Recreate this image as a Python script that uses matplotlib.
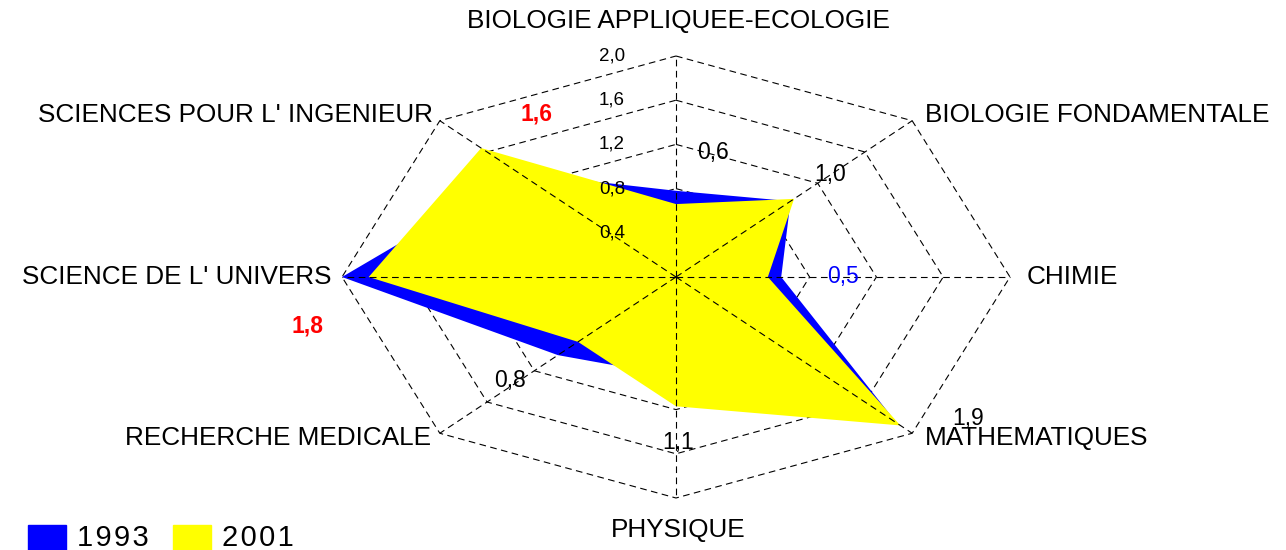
import numpy as np
import matplotlib
matplotlib.use('Agg')
import matplotlib.pyplot as plt
from matplotlib.patches import Rectangle

# axes, clockwise from the top
categories = ['BIOLOGIE APPLIQUEE-ECOLOGIE', 'BIOLOGIE FONDAMENTALE', 'CHIMIE',
              'MATHEMATIQUES', 'PHYSIQUE', 'RECHERCHE MEDICALE',
              "SCIENCE DE L' UNIVERS", "SCIENCES POUR L' INGENIEUR"]
v1993 = [0.78, 0.97, 0.63, 1.87, 0.90, 1.00, 2.00, 1.33]
v2001 = [0.66, 1.00, 0.55, 1.90, 1.17, 0.83, 1.84, 1.65]
value_labels = ['0,6', '1,0', '0,5', '1,9', '1,1', '0,8', '1,8', '1,6']
ring_levels = [0.4, 0.8, 1.2, 1.6, 2.0]
ring_labels = ['0,4', '0,8', '1,2', '1,6', '2,0']
years = ['1993', '2001']

BLUE = '#0000ff'
YELLOW = '#ffff00'
RED = '#ff0000'

W, H = 1286, 550
CX, CY = 676, 277          # centre in pixels
SX, SY = 167.0, 110.5      # pixels per unit (chart is stretched sideways)

SANS = ['Liberation Sans', 'DejaVu Sans']


def px(x, y):
    # pixel position (from top-left) -> data coords
    return (x - CX) / SX, (CY - y) / SY


n = len(categories)
ang = np.deg2rad(90 - 45 * np.arange(n))


def polar_xy(vals):
    vals = np.asarray(vals, dtype=float)
    return vals * np.cos(ang), vals * np.sin(ang)


fig = plt.figure(figsize=(W / 100, H / 100), dpi=100)
ax = fig.add_axes([0, 0, 1, 1])
ax.set_xlim(-CX / SX, (W - CX) / SX)
ax.set_ylim(-(H - CY) / SY, CY / SY)
ax.axis('off')

dash = (0, (6, 4))

# octagonal rings (under the fills)
for lev in ring_levels:
    x, y = polar_xy([lev] * n)
    ax.plot(np.append(x, x[0]), np.append(y, y[0]), color='black',
            lw=0.8, ls=dash, zorder=1)

# filled series
for vals, col, z in [(v1993, BLUE, 2), (v2001, YELLOW, 3)]:
    x, y = polar_xy(vals)
    ax.fill(x, y, color=col, lw=0, zorder=z)

# spokes on top of the fills
for a in ang:
    ax.plot([0, 2.0 * np.cos(a)], [0, 2.0 * np.sin(a)], color='black',
            lw=0.8, ls=dash, zorder=4)

# radial scale labels along the top spoke
for lev, lab in zip(ring_levels, ring_labels):
    ax.text(-64 / SX, lev, lab, ha='center', va='center', fontsize=13.5,
            family=SANS, zorder=5)

# category labels
cat_pos = [(678, 21, 'center'), (925, 115, 'left'), (1027, 277, 'left'),
           (925, 438, 'left'), (678, 530, 'center'), (431, 438, 'right'),
           (331, 277, 'right'), (433, 115, 'right')]
for lab, (x, y, ha) in zip(categories, cat_pos):
    ax.text(*px(x, y), lab, ha=ha, va='center', fontsize=18.8,
            family=SANS, zorder=7)

# value labels
val_pos = [(713, 152), (830, 175), (843, 276), (968, 418),
           (678, 442), (510, 381), (307, 326), (537, 114)]
val_col = ['black', 'black', BLUE, 'black', 'black', 'black', RED, RED]
val_bold = [False] * 6 + [True, True]
for lab, (x, y), c, b in zip(value_labels, val_pos, val_col, val_bold):
    ax.text(*px(x, y), lab, ha='center', va='center', fontsize=16.5,
            color=c, fontweight='bold' if b else 'normal', family=SANS,
            zorder=6)

# legend at the bottom, cut by the figure edge
for i, (yr, col) in enumerate(zip(years, [BLUE, YELLOW])):
    x0 = 28 + i * 145
    fig.add_artist(Rectangle((x0 / W, 0), 38 / W, 25 / H, color=col,
                             transform=fig.transFigure))
    fig.text((x0 + 49) / W, (H - 538) / H, '\u200a'.join(yr),
             ha='left', va='center', fontsize=21, family=SANS)

fig.savefig('out.png', dpi=100)
